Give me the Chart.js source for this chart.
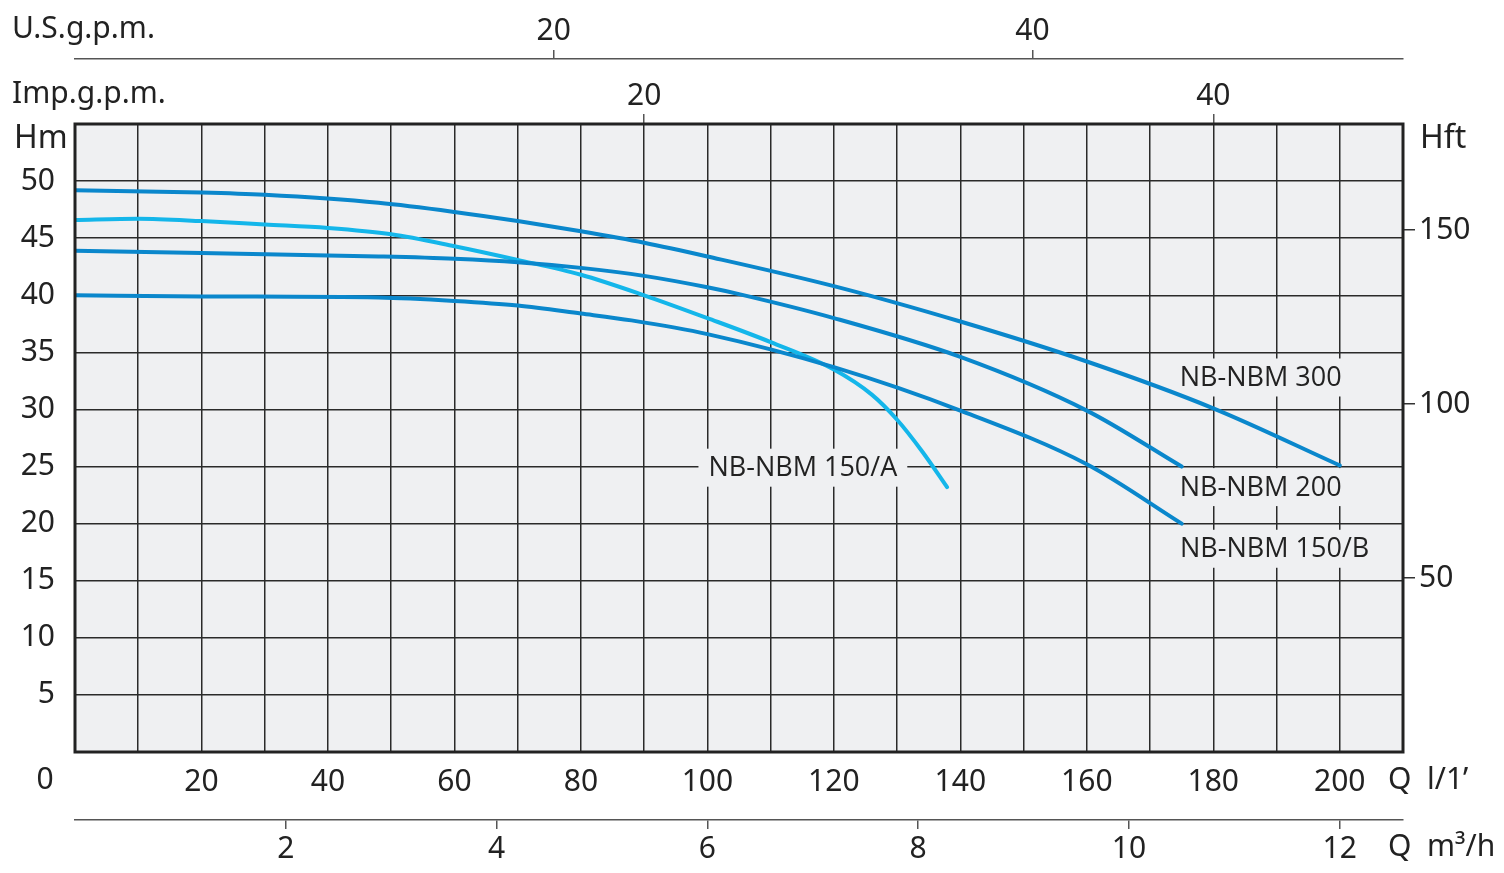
<!DOCTYPE html>
<html>
<head>
<meta charset="utf-8">
<script src="https://cdn.jsdelivr.net/npm/chart.js@4/dist/chart.umd.min.js"></script>
<style>
  body { margin: 0; background: #fff; }
  #wrap { width: 1504px; height: 873px; }
</style>
</head>
<body>
<div id="wrap"><canvas id="pumpChart" width="1504" height="873"></canvas></div>
<script>
// flow in l/min, head in m
const flow300 = [0, 20, 30, 48, 60, 70, 80, 90, 100, 120, 140, 160, 180, 200];
const head300 = [49.2, 49.0, 48.8, 48.1, 47.3, 46.5, 45.6, 44.6, 43.4, 40.8, 37.7, 34.2, 30.1, 25.1];

const flow200 = [0, 20, 48, 60, 70, 80, 90, 100, 105, 120, 140, 160, 175];
const head200 = [43.9, 43.7, 43.4, 43.2, 42.9, 42.4, 41.7, 40.7, 40.1, 38.0, 34.6, 29.9, 25.0];

const flow150B = [0, 20, 48, 60, 70, 80, 88, 100, 120, 140, 160, 175];
const head150B = [40.0, 39.9, 39.8, 39.5, 39.1, 38.4, 37.8, 36.6, 33.7, 29.9, 25.2, 20.0];

const flow150A = [0, 10, 20, 30, 40, 50, 60, 70, 80, 90, 100, 110, 120, 126, 130, 134, 137.9];
const head150A = [46.6, 46.7, 46.5, 46.2, 45.9, 45.35, 44.3, 43.1, 41.8, 40.0, 38.0, 35.9, 33.5, 31.3, 29.1, 26.3, 23.2];

const seriesNames = ["NB-NBM 300", "NB-NBM 200", "NB-NBM 150/B", "NB-NBM 150/A"];
// where the curve names sit, in l/min and m
const labelFlow = [187.5, 187.5, 189.7, 115.1];
const labelHead = [32.8, 23.2, 17.8, 24.9];

const usTicks = [20, 40];
const impTicks = [20, 40];
const m3hTicks = [2, 4, 6, 8, 10, 12];
const ftTicks = [50, 100, 150];

const xMax = 210, yMax = 55;
const lPerUsGal = 3.785, lPerImpGal = 4.5, lminPerM3h = 1000 / 60, ftPerM = 3.28084;

const darkBlue = "#0a87cc";
const lightBlue = "#14b6ea";
const plotBg = "#eff0f2";
const ink = "#222";
const tickFont = { family: "Noto Sans", size: 30 };

const toPts = (xs, ys) => xs.map((x, i) => ({ x: x, y: ys[i] }));
const fixTicks = list => s => { s.ticks = list.map(v => ({ value: v })); };

const bgPlugin = {
  id: "plotBg",
  beforeDraw(chart) {
    const a = chart.chartArea, c = chart.ctx;
    c.save();
    c.fillStyle = plotBg;
    c.fillRect(a.left, a.top, a.right - a.left, a.bottom - a.top);
    c.restore();
  },
  beforeDatasetsDraw(chart) {
    // curve names sit on a patch of plot colour that hides the grid
    const c = chart.ctx, xs = chart.scales.x, ys = chart.scales.y;
    c.save();
    c.font = "27px 'Open Sans'";
    c.textBaseline = "middle";
    c.textAlign = "center";
    seriesNames.forEach((name, i) => {
      const px = xs.getPixelForValue(labelFlow[i]);
      const py = ys.getPixelForValue(labelHead[i]);
      const w = c.measureText(name).width + 20;
      c.fillStyle = plotBg;
      c.fillRect(px - w / 2, py - 19, w, 38);
      c.fillStyle = ink;
      c.fillText(name, px, py + 1);
    });
    c.restore();
  },
  afterDraw(chart) {
    const a = chart.chartArea, c = chart.ctx;
    c.save();
    c.strokeStyle = ink;
    c.lineWidth = 3;
    c.strokeRect(a.left, a.top, a.right - a.left, a.bottom - a.top);
    c.fillStyle = ink;
    c.font = "30px 'Noto Sans'";
    c.textBaseline = "middle";
    c.textAlign = "left";
    c.fillText("U.S.g.p.m.", 12, 29);
    c.fillText("Imp.g.p.m.", 12, 94);
    c.font = "32px 'Noto Sans'";
    c.fillText("Hm", 14, 139);
    c.fillText("Hft", 1420, 139);
    c.font = "30px 'Noto Sans'";
    c.fillText("Q  l/1\u2019", 1388, 780);
    c.fillText("Q  m\u00b3/h", 1388, 847);
    c.textAlign = "center";
    c.fillText("0", 45, 780);
    c.restore();
  }
};

new Chart(document.getElementById("pumpChart"), {
  type: "line",
  data: {
    datasets: [
      { label: seriesNames[0], data: toPts(flow300, head300), borderColor: darkBlue },
      { label: seriesNames[1], data: toPts(flow200, head200), borderColor: darkBlue },
      { label: seriesNames[2], data: toPts(flow150B, head150B), borderColor: darkBlue },
      { label: seriesNames[3], data: toPts(flow150A, head150A), borderColor: lightBlue }
    ]
  },
  options: {
    responsive: false,
    animation: false,
    devicePixelRatio: 1,
    layout: { padding: 0 },
    elements: {
      line: { borderWidth: 4, cubicInterpolationMode: "monotone", fill: false, borderCapStyle: "round" },
      point: { radius: 0 }
    },
    plugins: { legend: { display: false }, tooltip: { enabled: false } },
    scales: {
      x: {
        type: "linear", position: "bottom", weight: 0, min: 0, max: xMax,
        ticks: {
          stepSize: 10, autoSkip: false, maxRotation: 0, padding: 12, color: ink, font: tickFont,
          callback: v => (v > 0 && v <= 200 && v % 20 === 0) ? v : ""
        },
        grid: { color: "#2a2a2a", lineWidth: 1.5, drawTicks: false },
        border: { display: false },
        afterFit: s => { s.height = 68; }
      },
      m3h: {
        type: "linear", position: "bottom", weight: 1, min: 0, max: xMax / lminPerM3h,
        afterBuildTicks: fixTicks(m3hTicks),
        ticks: { autoSkip: false, maxRotation: 0, padding: 2, color: ink, font: tickFont },
        grid: { drawOnChartArea: false, tickLength: 9, color: "#555", lineWidth: 1.5 },
        border: { display: true, color: "#555", width: 1.5 },
        afterFit: s => { s.height = 53; }
      },
      imp: {
        type: "linear", position: "top", weight: 0, min: 0, max: xMax / lPerImpGal,
        afterBuildTicks: fixTicks(impTicks),
        ticks: { autoSkip: false, maxRotation: 0, padding: 0, color: ink, font: tickFont },
        grid: { drawOnChartArea: false, tickLength: 10, color: "#555", lineWidth: 1.5 },
        border: { display: false },
        afterFit: s => { s.height = 65; }
      },
      us: {
        type: "linear", position: "top", weight: 1, min: 0, max: xMax / lPerUsGal,
        afterBuildTicks: fixTicks(usTicks),
        ticks: { autoSkip: false, maxRotation: 0, padding: 1, color: ink, font: tickFont },
        grid: { drawOnChartArea: false, tickLength: 9, color: "#555", lineWidth: 1.5 },
        border: { display: true, color: "#555", width: 1.5 },
        afterFit: s => { s.height = 59; }
      },
      y: {
        type: "linear", position: "left", min: 0, max: yMax,
        ticks: {
          stepSize: 5, autoSkip: false, padding: 20, color: ink, font: tickFont,
          callback: v => (v > 0 && v < yMax) ? v : ""
        },
        grid: { color: "#2a2a2a", lineWidth: 1.5, drawTicks: false },
        border: { display: false },
        afterFit: s => { s.width = 75; }
      },
      ft: {
        type: "linear", position: "right", min: 0, max: yMax * ftPerM,
        afterBuildTicks: fixTicks(ftTicks),
        ticks: { autoSkip: false, padding: 4, color: ink, font: tickFont },
        grid: { drawOnChartArea: false, tickLength: 12, color: "#333", lineWidth: 1.5 },
        border: { display: false },
        afterFit: s => { s.width = 101; }
      }
    }
  },
  plugins: [bgPlugin]
});
</script>
</body>
</html>
